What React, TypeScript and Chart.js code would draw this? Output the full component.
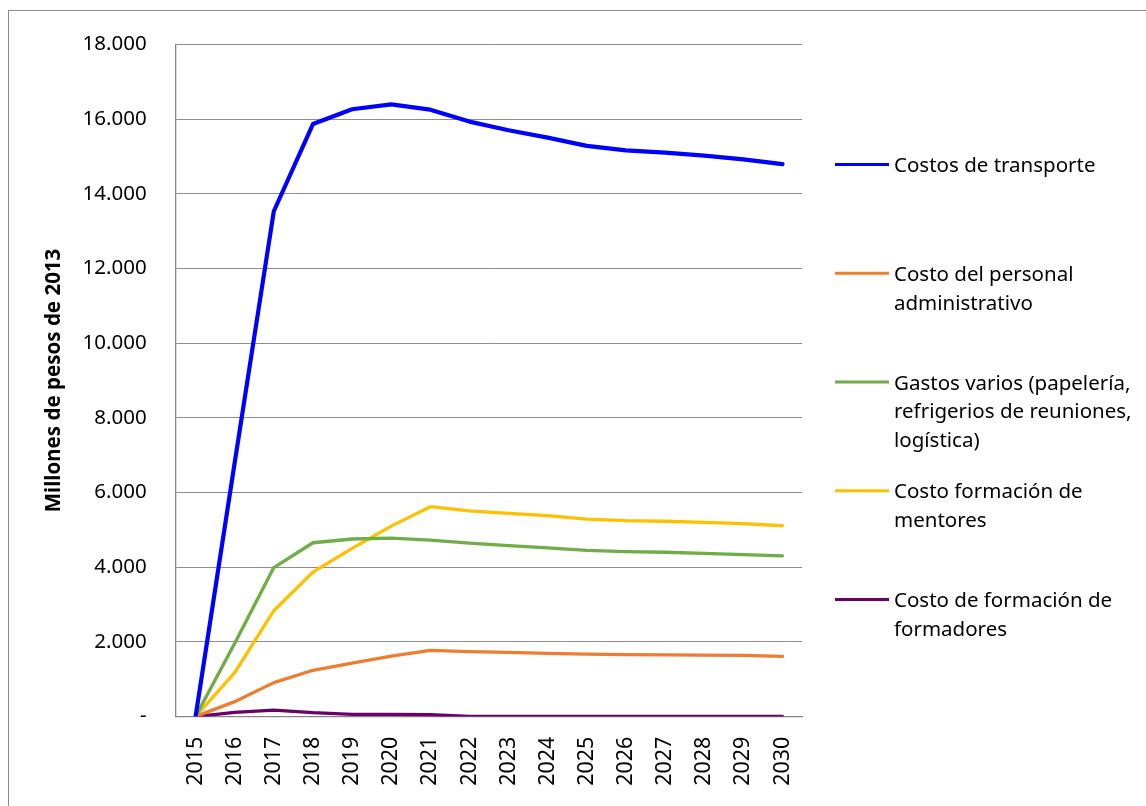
import React, { useEffect, useRef } from "react";
import { Chart, registerables } from "chart.js";

Chart.register(...registerables);

const years = ["2015", "2016", "2017", "2018", "2019", "2020", "2021", "2022", "2023", "2024", "2025", "2026", "2027", "2028", "2029", "2030"];

const transporte = [0, 6800, 13530, 15865, 16260, 16390, 16250, 15930, 15700, 15500, 15280, 15160, 15100, 15020, 14920, 14790];
const personalAdministrativo = [0, 400, 910, 1240, 1430, 1620, 1775, 1740, 1720, 1695, 1675, 1658, 1655, 1648, 1640, 1615];
const gastosVarios = [0, 1960, 3990, 4655, 4755, 4780, 4725, 4645, 4575, 4515, 4450, 4415, 4400, 4370, 4335, 4305];
const formacionMentores = [0, 1175, 2835, 3870, 4505, 5100, 5620, 5510, 5440, 5380, 5285, 5245, 5230, 5200, 5165, 5110];
const formacionFormadores = [0, 115, 175, 105, 60, 60, 50, 5, 5, 5, 5, 5, 5, 5, 5, 5];

const seriesLegendLines = [
  ["Costos de transporte"],
  ["Costo del personal", "administrativo"],
  ["Gastos varios (papelería,", "refrigerios de reuniones,", "logística)"],
  ["Costo formación de", "mentores"],
  ["Costo de formación de", "formadores"],
];

const seriesColors = ["#0000FF", "#ED7D31", "#70AD47", "#FFC000", "#6A0068"];
const seriesValues = [transporte, personalAdministrativo, gastosVarios, formacionMentores, formacionFormadores];
const seriesWidths = [4.2, 3.3, 3.3, 3.3, 3.3];

const yTicks = { min: 0, max: 18000, step: 2000 };
const yTitle = "Millones de pesos de 2013";

const FONT = "'Noto Sans', sans-serif";

function formatThousands(v: number): string {
  if (v === 0) return "-";
  return String(Math.round(v)).replace(/\B(?=(\d{3})+(?!\d))/g, ".");
}

const framePlugin = {
  id: "frameAndLegend",
  beforeDraw(chart: any) {
    const ctx = chart.ctx;
    ctx.save();
    ctx.fillStyle = "#ffffff";
    ctx.fillRect(0, 0, chart.width, chart.height);
    ctx.strokeStyle = "#8a8a8a";
    ctx.lineWidth = 1;
    ctx.strokeRect(8.5, 10.5, chart.width + 20, chart.height + 20);
    ctx.restore();
  },
  afterDraw(chart: any) {
    const ctx = chart.ctx;
    const area = chart.chartArea;
    const lx0 = area.right + 33;
    const lx1 = lx0 + 54;
    const tx = lx1 + 5;
    const top = 164.5;
    const step = 108.75;
    const lineH = 28.7;
    ctx.save();
    ctx.font = `20.5px ${FONT}`;
    ctx.textAlign = "left";
    ctx.textBaseline = "alphabetic";
    chart.data.datasets.forEach((ds: any, i: number) => {
      const y = top + i * step;
      ctx.strokeStyle = ds.borderColor;
      ctx.lineWidth = 3;
      ctx.lineCap = "butt";
      ctx.beginPath();
      ctx.moveTo(lx0, y);
      ctx.lineTo(lx1, y);
      ctx.stroke();
      ctx.fillStyle = "#000000";
      (ds.legendLines as string[]).forEach((t, j) => {
        ctx.fillText(t, tx, y + 7.6 + j * lineH);
      });
    });
    ctx.restore();
  },
};

export default function App() {
  const canvasRef = useRef<HTMLCanvasElement | null>(null);

  useEffect(() => {
    const canvas = canvasRef.current;
    if (!canvas) return;
    const chart = new Chart(canvas, {
      type: "line",
      data: {
        labels: years,
        datasets: seriesValues.map((vals, i) => ({
          label: seriesLegendLines[i].join(" "),
          legendLines: seriesLegendLines[i],
          data: vals,
          borderColor: seriesColors[i],
          backgroundColor: seriesColors[i],
          borderWidth: seriesWidths[i],
          pointRadius: 0,
          pointHoverRadius: 0,
          tension: 0,
          borderJoinStyle: "round",
          borderCapStyle: "round",
          fill: false,
        })) as any,
      },
      options: {
        animation: false,
        responsive: false,
        devicePixelRatio: 1,
        layout: { padding: { left: 0, top: 44.3, right: 344, bottom: 0 } },
        plugins: {
          legend: { display: false },
          tooltip: { enabled: false },
        },
        scales: {
          x: {
            type: "category",
            offset: true,
            grid: { display: true, drawOnChartArea: false, drawTicks: false },
            border: { display: true, color: "#868686", width: 1.3 },
            ticks: {
              autoSkip: false,
              minRotation: 90,
              maxRotation: 90,
              padding: 20,
              color: "#000000",
              font: { family: FONT, size: 21.5 },
            },
            afterFit: (s: any) => {
              s.height = 89.4;
            },
          },
          y: {
            min: yTicks.min,
            max: yTicks.max,
            ticks: {
              stepSize: yTicks.step,
              padding: 29.3,
              color: "#000000",
              font: { family: FONT, size: 20.5 },
              callback: (v: any) => formatThousands(Number(v)),
            },
            grid: { color: "#8e8e8e", lineWidth: 1, drawTicks: false },
            border: { display: true, color: "#868686", width: 1.3 },
            title: {
              display: true,
              text: yTitle,
              color: "#000000",
              font: { family: FONT, size: 20.5, weight: "bold" },
              padding: { top: 41.7, bottom: 0 },
            },
            afterFit: (s: any) => {
              s.width = 176;
            },
          },
        },
      } as any,
      plugins: [framePlugin],
    });
    return () => chart.destroy();
  }, []);

  return (
    <div style={{ position: "fixed", left: 0, top: 0, width: 1146, height: 806, background: "#fff" }}>
      <canvas ref={canvasRef} width={1146} height={806} style={{ display: "block", width: 1146, height: 806 }} />
    </div>
  );
}
